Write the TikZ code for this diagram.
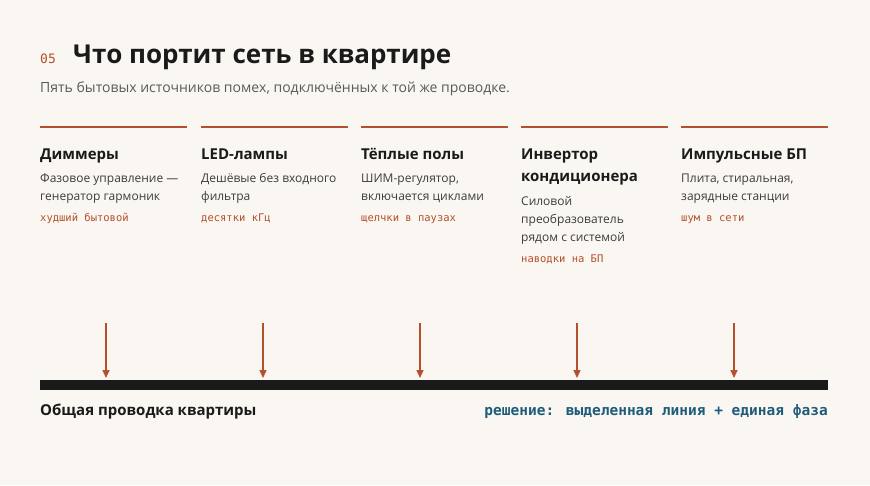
\documentclass[tikz,border=0pt]{standalone}
\usepackage{fontspec}
\setmainfont{Open Sans}
\newfontfamily\monof{DejaVu Sans Mono}
\usetikzlibrary{arrows.meta}
\definecolor{bg}{HTML}{FAF7F2}
\definecolor{rust}{HTML}{B4502C}
\definecolor{txt}{HTML}{1A1A1A}
\definecolor{sub}{HTML}{5A5A5A}
\definecolor{blu}{HTML}{1F5C7A}
\begin{document}
\begin{tikzpicture}[x=1pt,y=-1pt,
  ttl/.style={anchor=base west,inner sep=0,font=\bfseries\fontsize{26}{30}\selectfont,text=txt},
  hd/.style={anchor=base west,inner sep=0,font=\bfseries\fontsize{15}{20}\selectfont,text=txt},
  bd/.style={anchor=base west,inner sep=0,font=\fontsize{12}{16}\selectfont,text=txt!85},
  lb/.style={anchor=base west,inner sep=0,font=\monof\fontsize{10.5}{12}\selectfont,text=rust},
  top/.style={line width=2.6pt,rust},
  arr/.style={line width=1.5pt,rust,-{Triangle[length=8pt,width=7pt]}}]
\fill[bg] (0,0) rectangle (870,485);
\node[lb,font=\monof\fontsize{13}{15}\selectfont] (n) at (40,63) {05};
\node[ttl] (t) at (73,63) {Что портит сеть в квартире};
\node[anchor=base west,inner sep=0,font=\fontsize{14}{18}\selectfont,text=sub] (s) at (40,92) {Пять бытовых источников помех, подключённых к той же проводке.};
\foreach \i/\x/\ax in {1/40/106,2/201/263,3/361/420,4/521/577,5/681/734}{
  \coordinate (la\i) at (\x,127); \coordinate (lb\i) at (\x+147,127);
  \draw[top] (la\i) -- (lb\i);
  \coordinate (as\i) at (\ax,323); \coordinate (ae\i) at (\ax,378);
  \draw[arr] (as\i) -- (ae\i);
}
\node[hd] (h1) at (40,159) {Диммеры};
\node[bd] (b1a) at (40,182) {Фазовое управление —};
\node[bd] (b1b) at (40,200) {генератор гармоник};
\node[lb] (l1) at (40,221) {худший бытовой};
\node[hd] (h2) at (201,159) {LED-лампы};
\node[bd] (b2a) at (201,182) {Дешёвые без входного};
\node[bd] (b2b) at (201,200) {фильтра};
\node[lb] (l2) at (201,221) {десятки кГц};
\node[hd] (h3) at (361,159) {Тёплые полы};
\node[bd] (b3a) at (361,182) {ШИМ-регулятор,};
\node[bd] (b3b) at (361,200) {включается циклами};
\node[lb] (l3) at (361,221) {щелчки в паузах};
\node[hd] (h4a) at (521,159) {Инвертор};
\node[hd] (h4b) at (521,181) {кондиционера};
\node[bd] (b4a) at (521,205) {Силовой};
\node[bd] (b4b) at (521,223) {преобразователь};
\node[bd] (b4c) at (521,241) {рядом с системой};
\node[lb] (l4) at (521,262) {наводки на БП};
\node[hd] (h5) at (681,159) {Импульсные БП};
\node[bd] (b5a) at (681,182) {Плита, стиральная,};
\node[bd] (b5b) at (681,200) {зарядные станции};
\node[lb] (l5) at (681,221) {шум в сети};
\fill[txt] (40,380) rectangle (828,390);
\node[anchor=base west,inner sep=0,font=\bfseries\fontsize{15}{18}\selectfont,text=txt] (g) at (40,415) {Общая проводка квартиры};
\node[anchor=base east,inner sep=0,font=\monof\bfseries\fontsize{14.5}{17}\selectfont,text=blu] (r) at (828,415) {решение: выделенная линия + единая фаза};
\end{tikzpicture}
\end{document}
